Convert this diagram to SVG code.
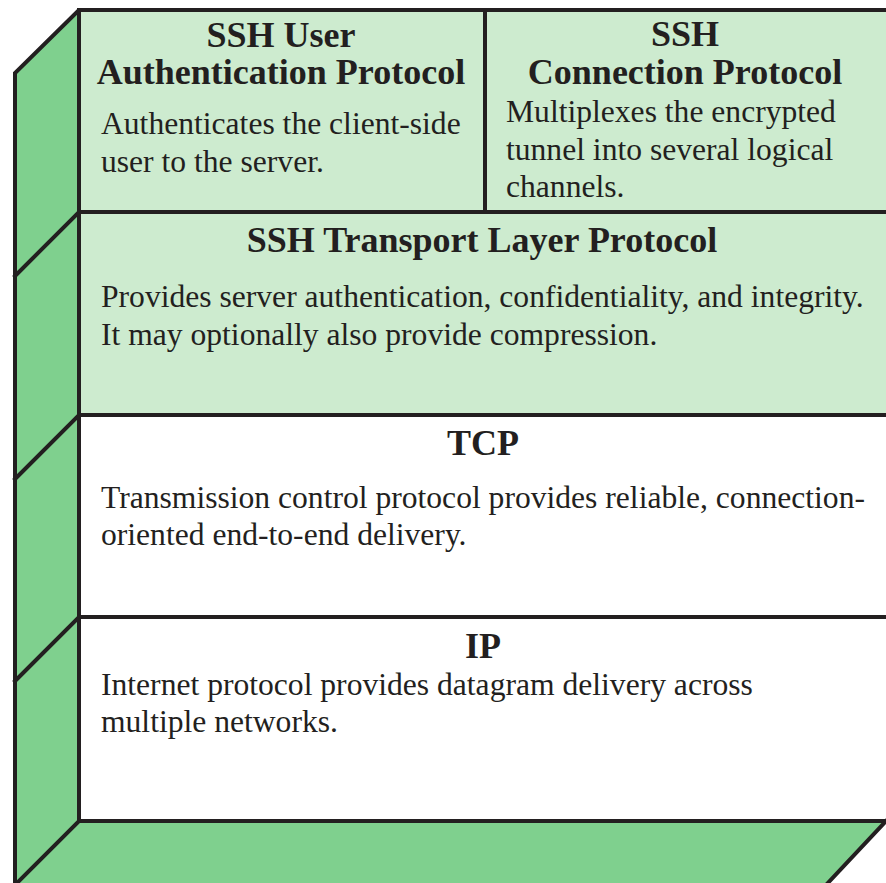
<svg xmlns="http://www.w3.org/2000/svg" width="886" height="883" viewBox="0 0 886 883">
<style>
.ln{stroke:#231f20;stroke-width:4;fill:none;stroke-linejoin:miter;stroke-linecap:square}
.side{fill:#7fd08e}
.lite{fill:#cdebcf}
.wh{fill:#ffffff}
.h{font-family:"Liberation Serif","Times New Roman",serif;font-weight:bold;font-size:36px;fill:#231f20;text-anchor:middle}
.b{font-family:"Liberation Serif","Times New Roman",serif;font-size:31.6px;fill:#231f20}
</style>
<rect width="886" height="883" fill="#ffffff"/>
<g id="sides">
<polygon class="side" points="15,73 79,10 79,821 15,885"/>
<polygon class="side" points="79,821 888,821 826,885 15,885"/>
</g>
<g id="ssh-user-auth">
<rect class="lite" x="79" y="10" width="406" height="202"/>
<text class="h" x="281" y="47">SSH User</text>
<text class="h" x="281" y="84">Authentication Protocol</text>
<text class="b" x="101" y="134">Authenticates the client-side</text>
<text class="b" x="101" y="172">user to the server.</text>
</g>
<g id="ssh-connection">
<rect class="lite" x="485" y="10" width="403" height="202"/>
<text class="h" x="685" y="46">SSH</text>
<text class="h" x="685" y="84">Connection Protocol</text>
<text class="b" x="506" y="122">Multiplexes the encrypted</text>
<text class="b" x="506" y="160">tunnel into several logical</text>
<text class="b" x="506" y="197">channels.</text>
</g>
<g id="ssh-transport">
<rect class="lite" x="79" y="212" width="809" height="203"/>
<text class="h" x="482" y="252">SSH Transport Layer Protocol</text>
<text class="b" x="101" y="307">Provides server authentication, confidentiality, and integrity.</text>
<text class="b" x="101" y="345">It may optionally also provide compression.</text>
</g>
<g id="tcp">
<rect class="wh" x="79" y="415" width="809" height="202"/>
<text class="h" x="483" y="455">TCP</text>
<text class="b" x="101" y="508">Transmission control protocol provides reliable, connection-</text>
<text class="b" x="101" y="545">oriented end-to-end delivery.</text>
</g>
<g id="ip">
<rect class="wh" x="79" y="617" width="809" height="204"/>
<text class="h" x="483" y="658">IP</text>
<text class="b" x="101" y="695">Internet protocol provides datagram delivery across</text>
<text class="b" x="101" y="732">multiple networks.</text>
</g>
<g id="connectors">
<path class="ln" d="M15,885 L15,73 L79,10 L890,10"/>
<path class="ln" d="M79,10 L79,821 L890,821"/>
<path class="ln" d="M485,10 L485,212"/>
<path class="ln" d="M79,212 L890,212 M79,415 L890,415 M79,617 L890,617"/>
<path class="ln" d="M79,212 L15,276 M79,415 L15,479 M79,617 L15,681 M79,821 L17,883"/>
<path class="ln" d="M886,821 L826,885"/>
</g>
</svg>
